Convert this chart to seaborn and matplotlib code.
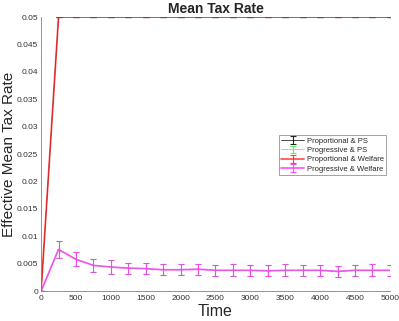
import numpy as np
import pandas as pd
import seaborn as sns
import matplotlib.pyplot as plt

# Data
time = [0, 250, 500, 750, 1000, 1250, 1500, 1750, 2000, 2250, 2500,
        2750, 3000, 3250, 3500, 3750, 4000, 4250, 4500, 4750, 5000]

prop_ps = [0] + [0.05] * 20
prop_ps_err = [0] * 21
prop_welfare = [0] + [0.05] * 20
prop_welfare_err = [0] * 21

prog_ps = [0, 0.0076, 0.0058, 0.0047, 0.0044, 0.0042, 0.0041, 0.0039, 0.0039, 0.0040, 0.0038,
           0.0038, 0.0038, 0.0037, 0.0038, 0.0038, 0.0038, 0.0036, 0.0038, 0.0038, 0.0038]
prog_ps_err = [0, 0.0016, 0.0013, 0.0012, 0.0012, 0.0010, 0.0010, 0.0010, 0.0010, 0.0010, 0.0010,
               0.0011, 0.0010, 0.0010, 0.0011, 0.0010, 0.0010, 0.0010, 0.0010, 0.0011, 0.0010]
prog_welfare = [0, 0.0076, 0.0058, 0.0047, 0.0044, 0.0042, 0.0041, 0.0039, 0.0039, 0.0040, 0.0038,
                0.0038, 0.0038, 0.0037, 0.0038, 0.0038, 0.0038, 0.0036, 0.0038, 0.0038, 0.0038]
prog_welfare_err = [0, 0.0016, 0.0013, 0.0012, 0.0012, 0.0010, 0.0010, 0.0010, 0.0010, 0.0010, 0.0010,
                    0.0011, 0.0010, 0.0010, 0.0011, 0.0010, 0.0010, 0.0010, 0.0010, 0.0011, 0.0010]

labels = ["Proportional & PS", "Progressive & PS", "Proportional & Welfare", "Progressive & Welfare"]

sns.set_style("white")
plt.rcParams['font.family'] = ['Liberation Sans', 'DejaVu Sans']

fig = plt.figure(figsize=(3.99, 3.21), dpi=100)
ax = fig.add_axes([0.103, 0.093, 0.874, 0.854])

series = [
    (prop_ps, prop_ps_err, 'black', 0.5, 1.0),
    (prog_ps, prog_ps_err, '#33ff33', 0.5, 1.0),
    (prop_welfare, prop_welfare_err, '#ff2020', 1.3, 0.75),
    (prog_welfare, prog_welfare_err, '#ff33ff', 1.3, 0.8),
]
for (y, e, c, lw, a), lab in zip(series, labels):
    cont = ax.errorbar(time, y, yerr=e, color=c, lw=lw, capsize=2.2,
                       elinewidth=0.8, capthick=0.8, label=lab)
    cont.lines[0].set_alpha(a)
    for b in cont.lines[1] + cont.lines[2]:
        b.set_alpha(0.85)

ax.set_xlim(0, 5000)
ax.set_ylim(0, 0.05)
ax.set_xticks(np.arange(0, 5001, 500))
ax.set_yticks(np.arange(0, 0.0501, 0.005))
ax.set_yticklabels(["0", "0.005", "0.01", "0.015", "0.02", "0.025",
                    "0.03", "0.035", "0.04", "0.045", "0.05"])
ax.tick_params(direction='in', length=3, width=0.5, colors='#333333',
               labelsize=6, pad=2)
ax.tick_params(axis='x', pad=3)
sns.despine(ax=ax)
for s in ['left', 'bottom']:
    ax.spines[s].set_color('#808080')
    ax.spines[s].set_linewidth(0.6)

ax.set_title("Mean Tax Rate", fontsize=10, fontweight='bold', pad=3)
ax.set_xlabel("Time", fontsize=11.5, labelpad=1)
ax.set_ylabel("Effective Mean Tax Rate", fontsize=11, labelpad=1)

leg = ax.legend(loc='upper right', bbox_to_anchor=(0.99, 0.57), fontsize=5.5,
                frameon=True, fancybox=False, edgecolor='#777777',
                handlelength=3.0, handletextpad=0.3, borderpad=0.35,
                labelspacing=0.25, borderaxespad=0)
leg.get_frame().set_linewidth(0.6)

fig.savefig("out.png", dpi=100)
